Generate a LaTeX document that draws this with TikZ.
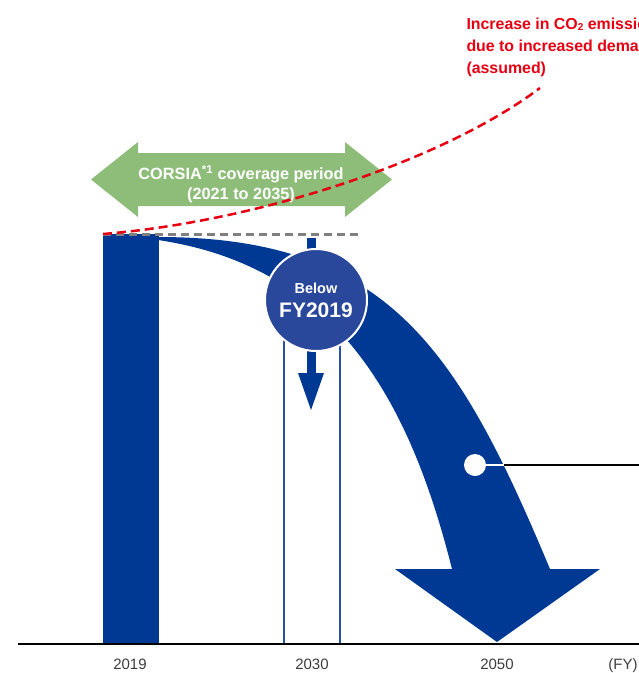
\documentclass[tikz,border=0pt]{standalone}
\usepackage{fontspec}
\setmainfont{Liberation Sans}
\definecolor{darkblue}{RGB}{0,57,147}
\definecolor{circblue}{RGB}{42,72,155}
\definecolor{rectblue}{RGB}{40,80,170}
\definecolor{corsiagreen}{RGB}{142,189,121}
\definecolor{redline}{RGB}{230,0,18}
\definecolor{dashgray}{RGB}{128,128,128}
\definecolor{axisgray}{RGB}{60,60,60}
\begin{document}
\begin{tikzpicture}[x=1pt,y=-1pt,
  every node/.style={inner sep=0pt, outer sep=0pt},
  axislabel/.style={font=\fontsize{15}{18}\selectfont, text=axisgray, anchor=base},
  corsiatext/.style={font=\bfseries\fontsize{16.3}{19.5}\selectfont, text=white, align=center, anchor=north},
  redtext/.style={font=\bfseries\fontsize{15.9}{21.8}\selectfont, text=redline, align=left, anchor=north west},
  graydash/.style={draw=dashgray, line width=3, dash pattern=on 8pt off 5pt},
  reddash/.style={draw=redline, line width=2.5, dash pattern=on 9pt off 5pt},
  badge/.style={circle, fill=circblue, draw=white, line width=2, minimum size=102,
    text=white, font=\bfseries\fontsize{21}{23.7}\selectfont, align=center},
  dotstyle/.style={circle, fill=white, minimum size=22}
]
\useasboundingbox (0,0) rectangle (639,673);
\clip (0,0) rectangle (639,673);

% CORSIA double arrow
\fill[corsiagreen] (91,179.5) -- (138,142) -- (138,153) -- (345,153) -- (345,142)
  -- (392,179.5) -- (345,217) -- (345,206) -- (138,206) -- (138,217) -- cycle;
\node[corsiatext] (corsia) at (241,165.5) {CORSIA\textsuperscript{*1} coverage period\\(2021 to 2035)};

% 2019 bar
\fill[darkblue] (103,233.5) rectangle (159,644);
% 2030 frame
\draw[rectblue, line width=1.4] (284,300) rectangle (340,644);

% big curved arrow
\fill[darkblue] (158,237) .. controls (388,237) and (458,349) .. (550,569)
  -- (600,569) -- (497,642) -- (395,569) -- (452,569)
  .. controls (408,394) and (333,266) .. (158,240) -- cycle;

% dashed lines
\draw[graydash] (103,234.5) -- (358,234.5);
\draw[reddash] (103,234) .. controls (253,222) and (440,163) .. (540,88);

% axis
\draw[black, line width=1.3] (18,644) -- (639,644);

% small down arrow
\fill[darkblue] (306.5,238) rectangle (315.5,374);
\fill[darkblue] (298,373) -- (324,373) -- (311,410) -- cycle;

% badge
\node[badge] (below) at (316,300) {{\fontsize{14.5}{17}\selectfont Below}\\FY2019};

% dot and leader
\node[dotstyle] (dot) at (475,465) {};
\coordinate (edge) at (504,465);
\coordinate (lineend) at (639,465);
\draw[white, line width=1.8] (dot) -- (edge);
\draw[black, line width=1.8] (edge) -- (lineend);

% red annotation
\node[redtext] (increase) at (466.5,18) {Increase in CO{\fontsize{10}{10}\selectfont\raisebox{-1pt}{2}} emissions\\due to increased demand\\(assumed)};

% axis labels
\node[axislabel] (y2019) at (130,669) {2019};
\node[axislabel] (y2030) at (312,669) {2030};
\node[axislabel] (y2050) at (497,669) {2050};
\node[axislabel] (fy) at (623,669) {(FY)};
\end{tikzpicture}
\end{document}
